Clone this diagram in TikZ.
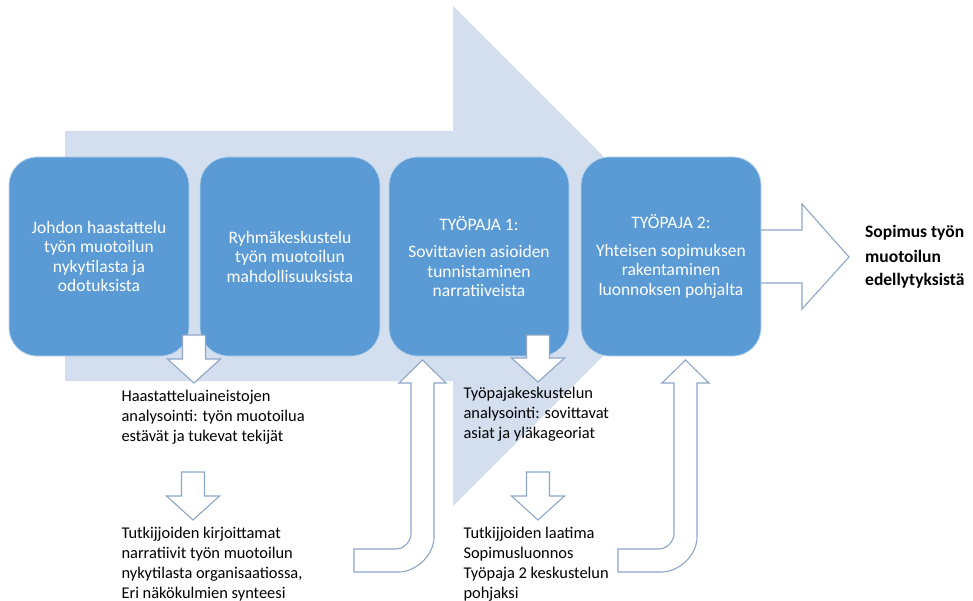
\documentclass[tikz,border=0pt]{standalone}
\usepackage{fontspec}
\setmainfont{Carlito}
\usepackage{xcolor}
\usepackage{tikz}
\usetikzlibrary{calc}
\definecolor{pale}{HTML}{D3DEEF}
\definecolor{boxblue}{HTML}{5B9BD5}
\definecolor{edge}{HTML}{8DA6C8}

\newcommand{\blkdown}[3]{\draw[blockarrow] ({#1-11.5},#2) -- ({#1+11.5},#2) -- ({#1+11.5},{#3-24}) -- ({#1+26.5},{#3-24}) -- (#1,#3) -- ({#1-26.5},{#3-24}) -- ({#1-11.5},{#3-24}) -- cycle;}
\newcommand{\blkturn}[2]{\draw[blockarrow] (#2,549) -- ({#1-15},549) .. controls ({#1-6.7},549) and (#1,540.7) .. (#1,534) -- (#1,383) -- ({#1-12},383) -- ({#1+11.5},360) -- ({#1+35},383) -- ({#1+23},383) -- ({#1+23},537) .. controls ({#1+23},556.3) and ({#1+3.7},572) .. ({#1-12},572) -- (#2,572) -- cycle;}

\begin{document}
\begin{tikzpicture}[x=1pt,y=-1pt,
  stepbox/.style={fill=boxblue,draw=white!60!boxblue,line width=.8pt,rounded corners=28pt,minimum width=180pt,minimum height=199pt,text=white,align=center,font=\fontsize{17.5}{19.5}\selectfont},
  blockarrow/.style={fill=white,draw=edge,line width=1.1pt,line join=miter},
  note/.style={anchor=base west,align=left,font=\fontsize{16.4}{20}\selectfont}]
\useasboundingbox (0,0) rectangle (973,601);
% background arrow
\fill[pale] (65,131) -- (453,131) -- (453,6) -- (703,256) -- (453,506) -- (453,381) -- (65,381) -- cycle;
\draw[blockarrow] (755,230) -- (802,230) -- (802,204) -- (849,257) -- (802,309) -- (802,283) -- (755,283);
\node[stepbox] (haastattelu) at (99,256.5) {Johdon haastattelu\\työn muotoilun\\nykytilasta ja\\odotuksista};
\node[stepbox] (ryhma) at (290,256.5) {Ryhmäkeskustelu\\työn muotoilun\\mahdollisuuksista};
\node[stepbox] (tyopaja1) at (479,256.5) {TYÖPAJA 1:\\[8pt]Sovittavien asioiden\\tunnistaminen\\narratiiveista};
\node[stepbox] (tyopaja2) at (671,256.5) {TYÖPAJA 2:\\[8pt]Yhteisen sopimuksen\\rakentaminen\\luonnoksen pohjalta};
\blkdown{194}{335}{383}
\blkdown{193}{472}{520}
\blkdown{538}{335}{382}
\blkdown{538}{472}{520}
\blkturn{411}{354}
\blkturn{674}{618}
% base = last line
\node[note] (analyysi1) at (118,441) {Haastatteluaineistojen\\analysointi: työn muotoilua\\estävät ja tukevat tekijät};
\node[note] (narratiivit) at (118,598) {Tutkijjoiden kirjoittamat\\narratiivit työn muotoilun\\nykytilasta organisaatiossa,\\Eri näkökulmien synteesi};
\node[note] (analyysi2) at (460,438) {Työpajakeskustelun\\analysointi: sovittavat\\asiat ja yläkageoriat};
\node[note] (luonnos) at (460,598) {Tutkijjoiden laatima\\Sopimusluonnos\\Työpaja 2 keskustelun\\pohjaksi};
\node[anchor=base west,align=left,inner sep=0pt,font=\fontsize{17.5}{24}\selectfont\bfseries] (sopimus) at (865,286) {Sopimus työn\\muotoilun\\edellytyksistä};
\end{tikzpicture}
\end{document}
